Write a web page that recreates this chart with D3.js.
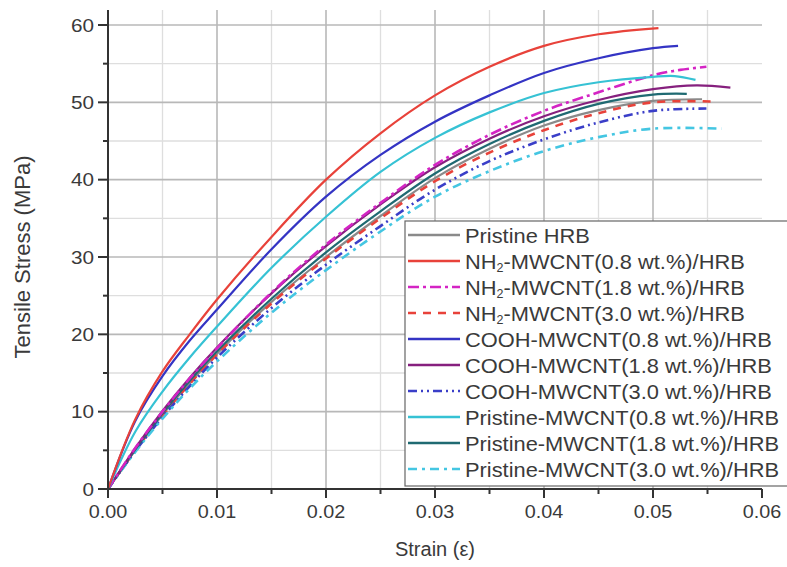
<!doctype html>
<html lang="en">
<head>
<meta charset="utf-8">
<title>Tensile stress vs strain</title>
<script src="https://cdn.jsdelivr.net/npm/d3@7"></script>
<style>
  body { margin: 0; background: #fff; }
  text { font-family: "Liberation Sans", Arial, sans-serif; fill: #3a3a3a; }
</style>
</head>
<body>
<script>
// strain grid shared by all curves (up to 0.05), then each curve's tail
var strain = [0, 0.0025, 0.005, 0.0075, 0.01, 0.015, 0.02, 0.025, 0.03, 0.035, 0.04, 0.045, 0.05];

var pristineHRB  = [0, 5.0, 9.6, 13.7, 17.5, 24.2, 30.0, 35.3, 40.2, 44.0, 47.0, 49.0, 50.2];
var nh2_08       = [0, 9.0, 15.2, 20.0, 24.5, 32.6, 40.0, 46.0, 50.9, 54.6, 57.3, 58.8, 59.5];
var nh2_18       = [0, 5.3, 10.0, 14.3, 18.2, 25.4, 31.6, 37.0, 41.9, 45.8, 48.9, 51.3, 53.5];
var nh2_30       = [0, 5.0, 9.5, 13.6, 17.4, 24.0, 29.8, 35.0, 39.8, 43.5, 46.4, 48.6, 50.0];
var cooh_08      = [0, 8.8, 14.6, 19.2, 23.2, 31.0, 37.8, 43.2, 47.5, 50.9, 53.8, 55.7, 57.0];
var cooh_18      = [0, 5.3, 10.1, 14.4, 18.3, 25.3, 31.4, 36.8, 41.6, 45.3, 48.2, 50.3, 51.7];
var cooh_30      = [0, 4.9, 9.3, 13.3, 17.0, 23.4, 29.0, 34.0, 38.7, 42.4, 45.2, 47.4, 48.9];
var pris_08      = [0, 7.4, 12.6, 17.0, 21.0, 28.6, 35.2, 41.0, 45.4, 48.7, 51.2, 52.6, 53.3];
var pris_18      = [0, 5.1, 9.8, 14.0, 17.8, 24.6, 30.6, 35.9, 40.8, 44.6, 47.6, 49.8, 51.0];
var pris_30      = [0, 4.8, 9.1, 13.0, 16.5, 22.8, 28.3, 33.3, 37.8, 41.1, 43.7, 45.5, 46.6];

// tails past 0.05: [strain, stress]
var tailHRB    = [[0.0545, 50.4]];
var tailNh208  = [[0.0505, 59.6]];
var tailNh218  = [[0.0525, 54.2], [0.0549, 54.6]];
var tailNh230  = [[0.0555, 50.1]];
var tailCooh08 = [[0.0523, 57.3]];
var tailCooh18 = [[0.054, 52.2], [0.0571, 51.9]];
var tailCooh30 = [[0.0549, 49.2]];
var tailPris08 = [[0.052, 53.4], [0.0539, 52.9]];
var tailPris18 = [[0.0531, 51.1]];
var tailPris30 = [[0.0563, 46.6]];

var names = ["Pristine HRB",
             "NH2-MWCNT(0.8 wt.%)/HRB", "NH2-MWCNT(1.8 wt.%)/HRB", "NH2-MWCNT(3.0 wt.%)/HRB",
             "COOH-MWCNT(0.8 wt.%)/HRB", "COOH-MWCNT(1.8 wt.%)/HRB", "COOH-MWCNT(3.0 wt.%)/HRB",
             "Pristine-MWCNT(0.8 wt.%)/HRB", "Pristine-MWCNT(1.8 wt.%)/HRB", "Pristine-MWCNT(3.0 wt.%)/HRB"];
var colors = ["#8a8a8a", "#e8423a", "#d424c4", "#e8423a", "#3434c4", "#86207e", "#3a3ec8",
              "#36c2d4", "#1f6a72", "#44c6e2"];
var dashes = [null, null, "11,4,3,4", "8,7", null, null, "9,4,2,4,2,4", null, null, "9,5,3,5"];

var series = [
    [pristineHRB, tailHRB], [nh2_08, tailNh208], [nh2_18, tailNh218], [nh2_30, tailNh230],
    [cooh_08, tailCooh08], [cooh_18, tailCooh18], [cooh_30, tailCooh30],
    [pris_08, tailPris08], [pris_18, tailPris18], [pris_30, tailPris30]
].map(function(s, i) {
    var pts = strain.map((x, j) => [x, s[0][j]]);
    // red 0.8 curve stops right at 0.05
    if (i == 1) pts = pts.slice(0, pts.length - 1);
    return {name: names[i], color: colors[i], dash: dashes[i], points: pts.concat(s[1])};
});

var svgW = 787, svgH = 567;
var margin = {top: 10, right: 25, bottom: 78, left: 108};

var xScale = d3.scaleLinear().domain([0, 0.06]).range([108, 762]);
var yScale = d3.scaleLinear().domain([0, 60]).range([489, 25]);

var svg = d3.select("body").append("svg")
            .attr("width", svgW)
            .attr("height", svgH);

// grid
var minorX = d3.range(0.005, 0.06, 0.01);
var majorX = d3.range(0.01, 0.0501, 0.01);
var minorY = d3.range(5, 60, 10);
var majorY = d3.range(10, 60.1, 10);

svg.append("g").selectAll("line").data(minorX).enter().append("line")
   .attr("x1", d => xScale(d)).attr("x2", d => xScale(d))
   .attr("y1", yScale(0)).attr("y2", margin.top)
   .attr("stroke", "#dedede").attr("stroke-width", 1.3);
svg.append("g").selectAll("line").data(minorY).enter().append("line")
   .attr("x1", xScale(0)).attr("x2", xScale(0.06))
   .attr("y1", d => yScale(d)).attr("y2", d => yScale(d))
   .attr("stroke", "#dedede").attr("stroke-width", 1.3);
svg.append("g").selectAll("line").data(majorX).enter().append("line")
   .attr("x1", d => xScale(d)).attr("x2", d => xScale(d))
   .attr("y1", yScale(0)).attr("y2", margin.top)
   .attr("stroke", "#b8b8b8").attr("stroke-width", 1.6);
svg.append("g").selectAll("line").data(majorY).enter().append("line")
   .attr("x1", xScale(0)).attr("x2", xScale(0.06))
   .attr("y1", d => yScale(d)).attr("y2", d => yScale(d))
   .attr("stroke", "#b8b8b8").attr("stroke-width", 1.6);

// curves
var line = d3.line()
             .x(d => xScale(d[0]))
             .y(d => yScale(d[1]))
             .curve(d3.curveCatmullRom.alpha(0.5));

// draw in an order so the upper curves sit on top
var order = [0, 3, 6, 9, 8, 5, 2, 7, 4, 1];
svg.append("g").selectAll("path")
   .data(order.map(i => series[i]))
   .enter()
   .append("path")
   .attr("d", d => line(d.points))
   .attr("fill", "none")
   .attr("stroke", d => d.color)
   .attr("stroke-width", d => d.dash ? 2.6 : 2.2)
   .attr("stroke-dasharray", d => d.dash);

// axes
var gx = svg.append("g").attr("transform", "translate(0," + yScale(0) + ")");
gx.append("line").attr("x1", xScale(0)).attr("x2", xScale(0.06))
  .attr("stroke", "#333").attr("stroke-width", 2);
gx.selectAll(".tickmark").data(d3.range(0, 13)).enter().append("line")
  .attr("x1", d => xScale(d * 0.005)).attr("x2", d => xScale(d * 0.005))
  .attr("y1", 0).attr("y2", d => d % 2 == 0 ? 9 : 5)
  .attr("stroke", "#333").attr("stroke-width", 2);
gx.selectAll(".lab").data(d3.range(0, 0.0601, 0.01)).enter().append("text")
  .attr("transform", d => "translate(" + xScale(d) + ",29) scale(1.1,1)")
  .attr("text-anchor", "middle")
  .attr("font-size", "18px")
  .text(d => d.toFixed(2));

var gy = svg.append("g").attr("transform", "translate(" + xScale(0) + ",0)");
gy.append("line").attr("y1", yScale(0)).attr("y2", margin.top)
  .attr("stroke", "#333").attr("stroke-width", 2);
gy.selectAll(".tickmark").data(d3.range(0, 13)).enter().append("line")
  .attr("y1", d => yScale(d * 5)).attr("y2", d => yScale(d * 5))
  .attr("x1", 0).attr("x2", d => d % 2 == 0 ? -10 : -5)
  .attr("stroke", "#333").attr("stroke-width", 2);
gy.selectAll(".lab").data(d3.range(0, 61, 10)).enter().append("text")
  .attr("transform", d => "translate(-14," + (yScale(d) + 6.5) + ") scale(1.15,1)")
  .attr("text-anchor", "end")
  .attr("font-size", "18px")
  .text(d => d);

svg.append("text")
   .attr("x", 435).attr("y", 556)
   .attr("text-anchor", "middle")
   .attr("font-size", "20px")
   .text("Strain (\u03b5)");

svg.append("text")
   .attr("transform", "translate(30,257) rotate(-90)")
   .attr("text-anchor", "middle")
   .attr("font-size", "22px")
   .text("Tensile Stress (MPa)");

// legend
var lg = svg.append("g");
lg.append("rect")
  .attr("x", 405).attr("y", 221).attr("width", 400).attr("height", 265)
  .attr("fill", "#fff").attr("stroke", "#666").attr("stroke-width", 1.2);

var rows = lg.selectAll(".row").data(series).enter().append("g")
             .attr("transform", (d, i) => "translate(0," + (235 + i * 26) + ")");
rows.append("line")
    .attr("x1", 408).attr("x2", 460).attr("y1", 0).attr("y2", 0)
    .attr("stroke", d => d.color)
    .attr("stroke-width", 2.6)
    .attr("stroke-dasharray", d => d.dash);
var labels = rows.append("text")
    .attr("transform", "translate(465,7.5) scale(1.04,1)")
    .attr("font-size", "21px");
labels.each(function(d) {
    var t = d3.select(this);
    if (d.name.indexOf("NH2") == 0) {
        t.append("tspan").text("NH");
        t.append("tspan").attr("font-size", "12px").attr("dy", 3).text("2");
        t.append("tspan").attr("dy", -3).text(d.name.slice(3));
    } else {
        t.text(d.name);
    }
});
</script>
</body>
</html>
